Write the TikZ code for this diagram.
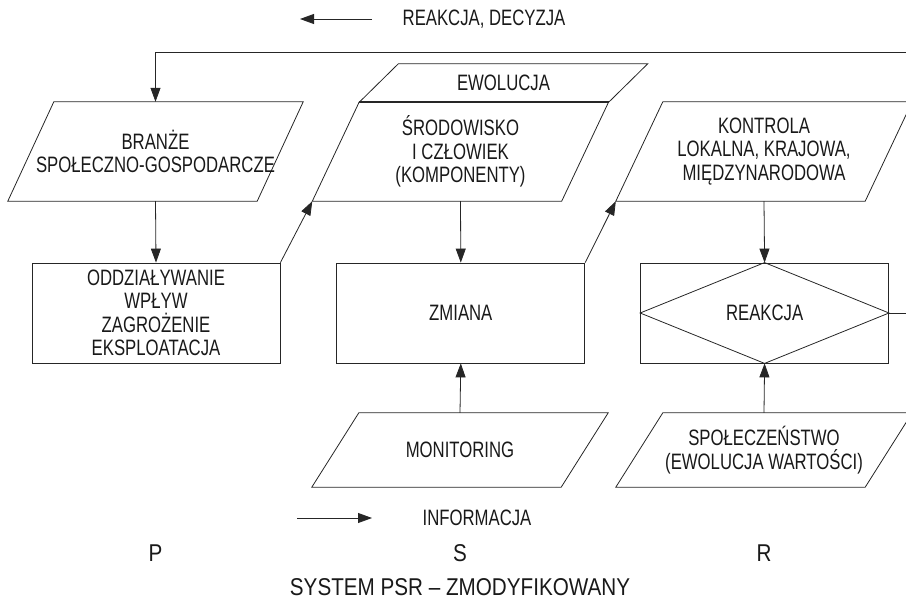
\documentclass[tikz,border=0pt]{standalone}
\usepackage{fontspec}
\setmainfont{Liberation Sans}[FakeStretch=0.75]
\newfontfamily\bigfont{Liberation Sans}[FakeStretch=0.85]
\usetikzlibrary{arrows.meta, positioning}
\tikzset{
        >={Triangle[length=14pt,width=10pt]}, % filled triangle heads
        line/.style={draw=black!85, line width=0.8pt}, % every outline
        flow/.style={->, line}, % connectors
        every node/.style={text=black!90, font=\fontsize{22.3}{23.5}\selectfont, align=center},
        big/.style={font=\bigfont\fontsize{24.3}{28}\selectfont},
    }
\tikzset{
      box/.style={
		line,
		minimum width=248pt,
		minimum height=100pt,
		inner sep=0pt,
	  },
      para/.style={
		minimum width=249pt,
		minimum height=99pt,
		inner sep=0pt,
		append after command={\pgfextra{\begin{pgfinterruptpath}
		  \draw[line] ([xshift=-#1]\tikzlastnode.south west) -- ([xshift=-#1]\tikzlastnode.south east)
		    -- ([xshift=#1]\tikzlastnode.north east) -- ([xshift=#1]\tikzlastnode.north west) -- cycle;
		\end{pgfinterruptpath}}},
	  },
  	}
\begin{document}
\begin{tikzpicture}[x=1pt, y=-1pt]
    \useasboundingbox (0,0) rectangle (906,605);
    % legend, top
    \node (reakdec) at (484,19) {REAKCJA, DECYZJA};
    \coordinate (r1) at (372,19);
    \coordinate (r0) at (300,19);
    \draw [flow] (r1) -- (r0);
    % first row
    \node [para=23pt] (branze) at (155.5,151.5) {BRANŻE\\SPOŁECZNO-GOSPODARCZE};
    \node [para=23.5pt] (srod) at (460.5,151.5) {ŚRODOWISKO\\I CZŁOWIEK\\(KOMPONENTY)};
    \node [para=19.5pt, minimum height=38pt] (ewol) at (503.5,83) {EWOLUCJA};
    \draw [line, line width=2pt] ([xshift=23.5pt]srod.north west) -- ([xshift=23.5pt]srod.north east);
    \node [para=23.5pt] (kontr) at (764,151.5) {KONTROLA\\LOKALNA, KRAJOWA,\\MIĘDZYNARODOWA};
    % second row
    \node [box] (oddz) at (156,313) {ODDZIAŁYWANIE\\WPŁYW\\ZAGROŻENIE\\EKSPLOATACJA};
    \node [box, right=56pt of oddz] (zmiana) {ZMIANA};
    \node [box, right=55pt of zmiana] (reak) {REAKCJA};
    \draw [line] (reak.west) -- (reak.north) -- (reak.east) -- (reak.south) -- cycle;
    % third row
    \node [para=23.5pt, minimum height=74pt] (monit) at (460,450) {MONITORING};
    \node [para=23.5pt, minimum height=74pt] (spol) at (764,450) {SPOŁECZEŃSTWO\\(EWOLUCJA WARTOŚCI)};
    % connectors
    \draw [flow] (branze.south) -- (oddz.north);
    \draw [flow] (oddz.north east) -- ([xshift=-23.5pt]srod.south west);
    \draw [flow] (srod.south) -- (zmiana.north);
    \draw [flow] (monit.north) -- (zmiana.south);
    \draw [flow] (zmiana.north east) -- ([xshift=-23.5pt]kontr.south west);
    \draw [flow] (kontr.south) -- (reak.north);
    \draw [flow] (spol.north) -- (reak.south);
    \coordinate (turn) at (930,52);
    \draw [flow] (reak.east) -| (turn) -| (branze.north);
    % legend, bottom
    \coordinate (i0) at (297,518);
    \coordinate (i1) at (372,518);
    \draw [flow] (i0) -- (i1);
    \node (info) at (477,518) {INFORMACJA};
    \node [big] (p) at (155.5,553) {P};
    \node [big] (s) at (460,553) {S};
    \node [big] (r) at (764,553) {R};
    \node [big] (title) at (460,587) {SYSTEM PSR – ZMODYFIKOWANY};
  \end{tikzpicture}
\end{document}
